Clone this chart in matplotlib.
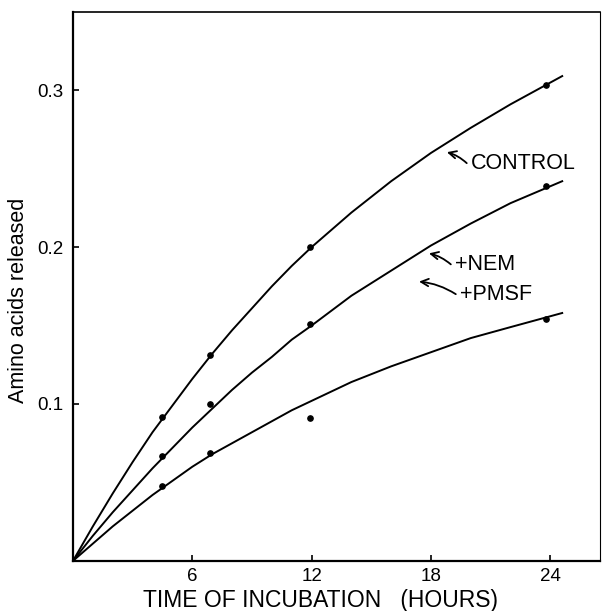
#!/usr/bin/env python3
"""Amino acids released vs time of incubation (control, +NEM, +PMSF)."""
import matplotlib
matplotlib.use('Agg')
import matplotlib.pyplot as plt

# measured points (hours, amino acids released)
pt_hours = [4.5, 6.9, 11.9, 23.8]
ctrl_pts = [0.092, 0.131, 0.200, 0.303]
nem_pts = [0.067, 0.100, 0.151, 0.239]
pmsf_pts = [0.048, 0.069, 0.091, 0.154]

# hand-drawn fitted curves
curve_hours = [0, 1, 2, 3, 4, 5, 6, 7, 8, 9, 10, 11, 12, 14, 16, 18, 20, 22, 24.6]
ctrl_curve = [0, 0.022, 0.043, 0.063, 0.082, 0.099, 0.116, 0.132, 0.147, 0.161,
              0.175, 0.188, 0.200, 0.222, 0.242, 0.260, 0.276, 0.291, 0.309]
nem_curve = [0, 0.016, 0.031, 0.045, 0.059, 0.072, 0.085, 0.097, 0.109, 0.120,
             0.130, 0.141, 0.150, 0.169, 0.185, 0.201, 0.215, 0.228, 0.242]
pmsf_curve = [0, 0.011, 0.022, 0.032, 0.042, 0.051, 0.060, 0.068, 0.075, 0.082,
              0.089, 0.096, 0.102, 0.114, 0.124, 0.133, 0.142, 0.149, 0.158]

x_ticks = [6, 12, 18, 24]
y_ticks = [0.1, 0.2, 0.3]

# label text, text anchor, arrow head
labels = [
    ('CONTROL', (20.0, 0.2535), (18.8, 0.2605)),
    ('+NEM', (19.2, 0.189), (17.9, 0.196)),
    ('+PMSF', (19.45, 0.170), (17.4, 0.178)),
]


def main():
    plt.rcParams.update({'font.family': ['Liberation Sans', 'DejaVu Sans'],
                         'font.size': 12})
    fig = plt.figure(figsize=(6.03, 6.11), dpi=100, facecolor='white')
    ax = fig.add_axes([0.121, 0.082, 0.874, 0.898])

    for curve in (ctrl_curve, nem_curve, pmsf_curve):
        ax.plot(curve_hours, curve, color='black', lw=1.4)
    for pts in (ctrl_pts, nem_pts, pmsf_pts):
        ax.plot(pt_hours, pts, 'o', color='black', ms=3.8)

    for txt, (tx, ty), (hx, hy) in labels:
        ax.annotate('', xy=(hx, hy), xytext=(tx - 0.2, ty),
                    arrowprops=dict(arrowstyle='->,head_length=0.45,head_width=0.22',
                                    color='black', lw=1.3, shrinkA=0, shrinkB=0,
                                    connectionstyle='arc3,rad=0.12'))
        ax.text(tx, ty, txt, fontsize=15.5, va='center', ha='left')

    ax.set_xlim(0, 26.5)
    ax.set_ylim(0, 0.3497)
    ax.set_xticks(x_ticks, [str(t) for t in x_ticks])
    ax.set_yticks(y_ticks, [f'{t:.1f}' for t in y_ticks])
    ax.tick_params(direction='in', length=4, width=1.2, labelsize=13.5)
    ax.tick_params(axis='x', pad=5)
    ax.tick_params(axis='y', pad=7)
    for sp in ax.spines.values():
        sp.set_linewidth(1.6)
    ax.spines['right'].set_linewidth(0.8)
    ax.spines['top'].set_linewidth(1.2)

    ax.set_xlabel('TIME OF INCUBATION   (HOURS)', fontsize=16.5)
    ax.xaxis.set_label_coords(0.469, -0.052)
    ax.set_ylabel('Amino acids released', fontsize=15.5)
    ax.yaxis.set_label_coords(-0.083, 0.475)

    fig.savefig('out.png', dpi=100)
    plt.close(fig)


if __name__ == '__main__':
    main()
